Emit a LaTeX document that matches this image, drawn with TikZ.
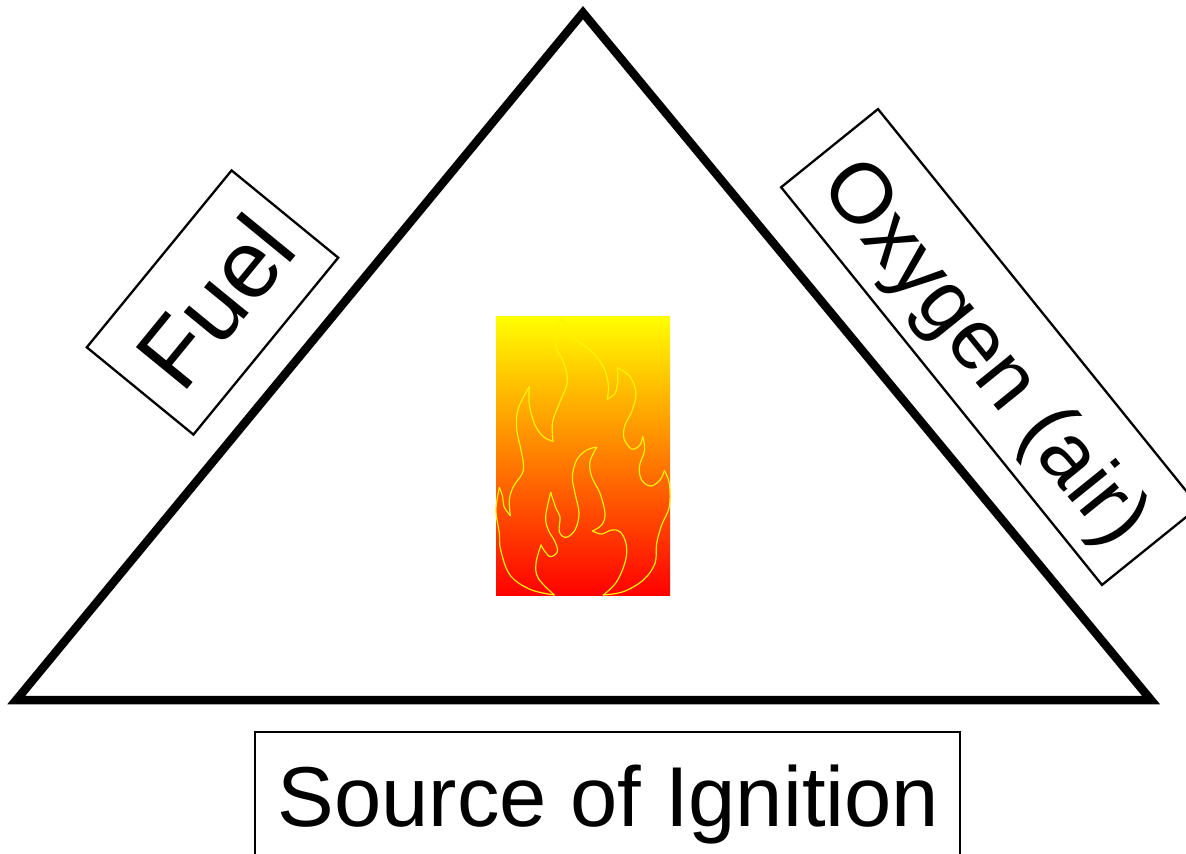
\documentclass[tikz,border=0pt]{standalone}
\usepackage{fontspec}
\setmainfont{Liberation Sans}
\newcommand{\placed}[3]{\smash{\makebox[0pt][c]{\hspace*{#1}\raisebox{#2}{#3}}}}
\tikzset{
  px/.style={x=1pt,y=-1pt},
  labelbox/.style={draw=black,line width=2.3pt,inner sep=0pt,align=center,
    font=\fontsize{85}{100}\selectfont},
  triangleline/.style={draw=black,line width=8.5pt,miter limit=10,line join=miter},
  flameline/.style={draw=yellow,line width=1.2pt,line join=round,line cap=round},
}
\begin{document}
\begin{tikzpicture}[px]
\useasboundingbox (0,0) rectangle (1186,854);
\clip (0,0) rectangle (1186,854);
\fill[white] (0,0) rectangle (1186,854);
% triangle
\coordinate (apex) at (583,12.7);
\coordinate (left) at (16.3,700);
\coordinate (right) at (1151,700);
\path[triangleline] (apex) -- (right) -- (left) -- cycle;
% labels
\node[labelbox,minimum width=228.6pt,minimum height=137.8pt,rotate=50.7] (fuel) at (212.5,302.5)
  {\placed{5pt}{-35.2pt}{\fontsize{96}{100}\selectfont Fuel}};
\node[labelbox,minimum width=511pt,minimum height=124.5pt,rotate=-51.1] (oxygen) at (990,347)
  {\placed{3pt}{-33pt}{Oxygen (air)}};
\node[labelbox,minimum width=705pt,minimum height=136pt] (ignition) at (607.5,800)
  {\placed{2pt}{-26pt}{Source of Ignition}};
% flame
\shade[top color=yellow,bottom color=red] (496,316) rectangle (670,595.7);
\begin{scope}[shift={(480,305)},x=0.33333pt,y=-0.33333pt]
\def\fl#1{\path[flameline] plot[smooth,tension=0.6] coordinates {#1};}
\fl{(223,870)(150,853)(90,810)(62,735)(58,685)(48,615)(58,547)}
\fl{(58,547)(68,575)(72,605)(91,632)}
\fl{(91,632)(88,585)(100,545)(127,505)(130,475)(123,435)(110,370)(115,310)(148,245)}
\fl{(148,245)(148,300)(165,360)(190,395)(219,409)}
\fl{(219,409)(218,350)(240,290)(262,230)(250,170)(228,125)(230,70)(248,40)}
\fl{(248,40)(270,90)(330,135)(370,185)(385,240)(382,282)}
\fl{(382,282)(405,265)(413,230)(412,188)}
\fl{(412,188)(450,215)(468,265)(455,320)(435,360)(432,400)(455,432)(480,420)(488,395)}
\fl{(488,395)(494,435)(478,485)(485,525)(512,543)(540,525)(553,497)}
\fl{(553,497)(568,535)(568,605)(545,660)(530,715)(525,775)(490,825)(430,860)(370,870)}
\fl{(370,870)(410,830)(437,765)(438,715)(420,680)(395,675)(365,687)(337,678)}
\fl{(337,678)(365,660)(375,625)(360,565)(335,515)(330,470)(350,427)}
\fl{(350,427)(320,435)(290,465)(277,515)(285,565)(297,625)(285,675)(258,697)(238,680)(240,635)(228,610)(212,562)}
\fl{(212,562)(197,635)(205,675)(225,710)(232,740)(212,755)(195,740)(183,720)}
\fl{(183,720)(168,775)(175,820)(223,870)}
\end{scope}
\end{tikzpicture}
\end{document}
